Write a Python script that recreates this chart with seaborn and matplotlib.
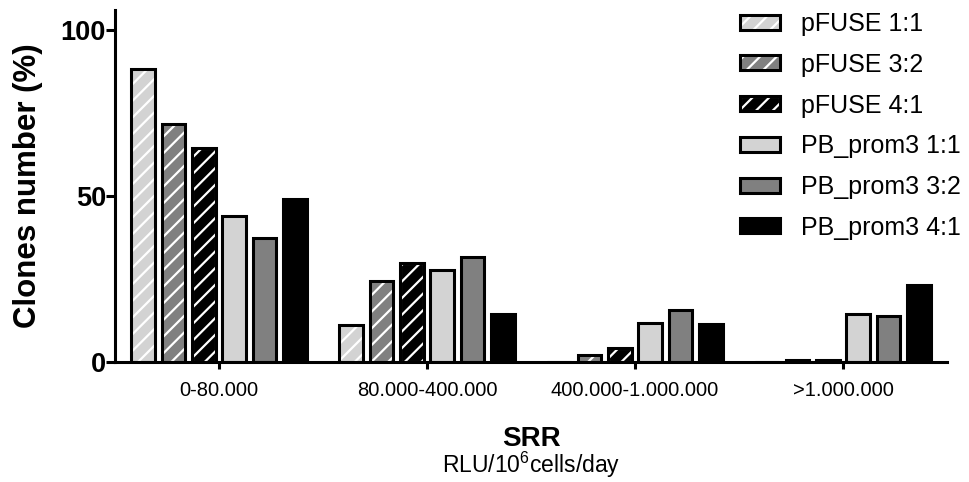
import pandas as pd
import seaborn as sns
import matplotlib.pyplot as plt
from matplotlib.patches import Patch, Rectangle

# Данные
categories = ['0-80.000', '80.000-400.000', '400.000-1.000.000', '>1.000.000']
series = ['pFUSE 1:1', 'pFUSE 3:2', 'pFUSE 4:1',
          'PB_prom3 1:1', 'PB_prom3 3:2', 'PB_prom3 4:1']
pfuse_11 = [88.3, 11.0, 0.0, 0.0]
pfuse_32 = [71.7, 24.3, 2.0, 0.6]
pfuse_41 = [64.3, 29.8, 4.1, 0.6]
pb_11 = [43.9, 27.8, 11.8, 14.4]
pb_32 = [37.2, 31.7, 15.8, 13.8]
pb_41 = [49.2, 14.5, 11.4, 23.3]

colors = ['#d3d3d3', '#808080', '#000000', '#d3d3d3', '#808080', '#000000']
hatched = [True, True, True, False, False, False]

values = [pfuse_11, pfuse_32, pfuse_41, pb_11, pb_32, pb_41]
rows = []
for name, vals in zip(series, values):
    for cat, v in zip(categories, vals):
        rows.append({'SRR': cat, 'Clones': v, 'Series': name})
df = pd.DataFrame(rows)

sns.set_style("ticks")
plt.rcParams['font.family'] = ['Liberation Sans', 'DejaVu Sans']
plt.rcParams['mathtext.default'] = 'regular'
plt.rcParams['hatch.linewidth'] = 1.6
for k in ['text.color', 'axes.labelcolor', 'xtick.color', 'ytick.color', 'axes.edgecolor']:
    plt.rcParams[k] = 'black'

lw = 2.2
fig = plt.figure(figsize=(9.7, 4.82), dpi=100)
ax = fig.add_axes([115 / 970, 1 - 362 / 482, 832 / 970, 352 / 482])

sns.barplot(data=df, x='SRR', y='Clones', hue='Series', hue_order=series,
            order=categories, palette=colors, saturation=1, width=0.874,
            gap=0.22, edgecolor='black', linewidth=lw, legend=False, ax=ax)

# белая штриховка + черная рамка поверх
hatch = '//'
for cont, h in zip(ax.containers, hatched):
    if not h:
        continue
    for bar in cont:
        bar.set_hatch(hatch)
        bar.set_edgecolor('white')
        ax.add_patch(Rectangle(bar.get_xy(), bar.get_width(), bar.get_height(),
                               fill=False, edgecolor='black', linewidth=lw,
                               zorder=bar.get_zorder() + 0.1))

ax.set_xlim(-0.5, 3.5)
ax.set_ylim(0, 106)
ax.set_yticks([0, 50, 100])
sns.despine(ax=ax)
for s in ['left', 'bottom']:
    ax.spines[s].set_linewidth(2.2)
ax.tick_params(axis='y', length=6.5, width=2.2, pad=0, labelsize=19.5)
ax.tick_params(axis='x', length=5, width=2.2, pad=9, labelsize=14.5)
for t in ax.get_yticklabels():
    t.set_fontweight('bold')

ax.set_ylabel('Clones number (%)', fontsize=22.5, fontweight='bold')
ax.yaxis.set_label_coords(-0.087, 0.5)
ax.set_xlabel('SRR', fontsize=20, fontweight='bold')
ax.xaxis.set_label_coords(0.5, -0.181)
ax.text(0.5, -0.25, r'RLU/10$^{6}$cells/day', transform=ax.transAxes,
        ha='center', va='top', fontsize=16.5)

handles = []
for c, h in zip(colors, hatched):
    if h:
        handles.append((Patch(facecolor=c, edgecolor='white', hatch=hatch, linewidth=lw),
                        Patch(fill=False, edgecolor='black', linewidth=lw)))
    else:
        handles.append(Patch(facecolor=c, edgecolor='black', linewidth=lw))
fig.legend(handles, series, loc='upper left', bbox_to_anchor=(740 / 970, 1 - 12 / 482),
           frameon=False, fontsize=18, handlelength=1.6, handleheight=0.55,
           handletextpad=0.85, labelspacing=0.67, borderpad=0, borderaxespad=0)

plt.savefig('out.png', dpi=100)
plt.close()
